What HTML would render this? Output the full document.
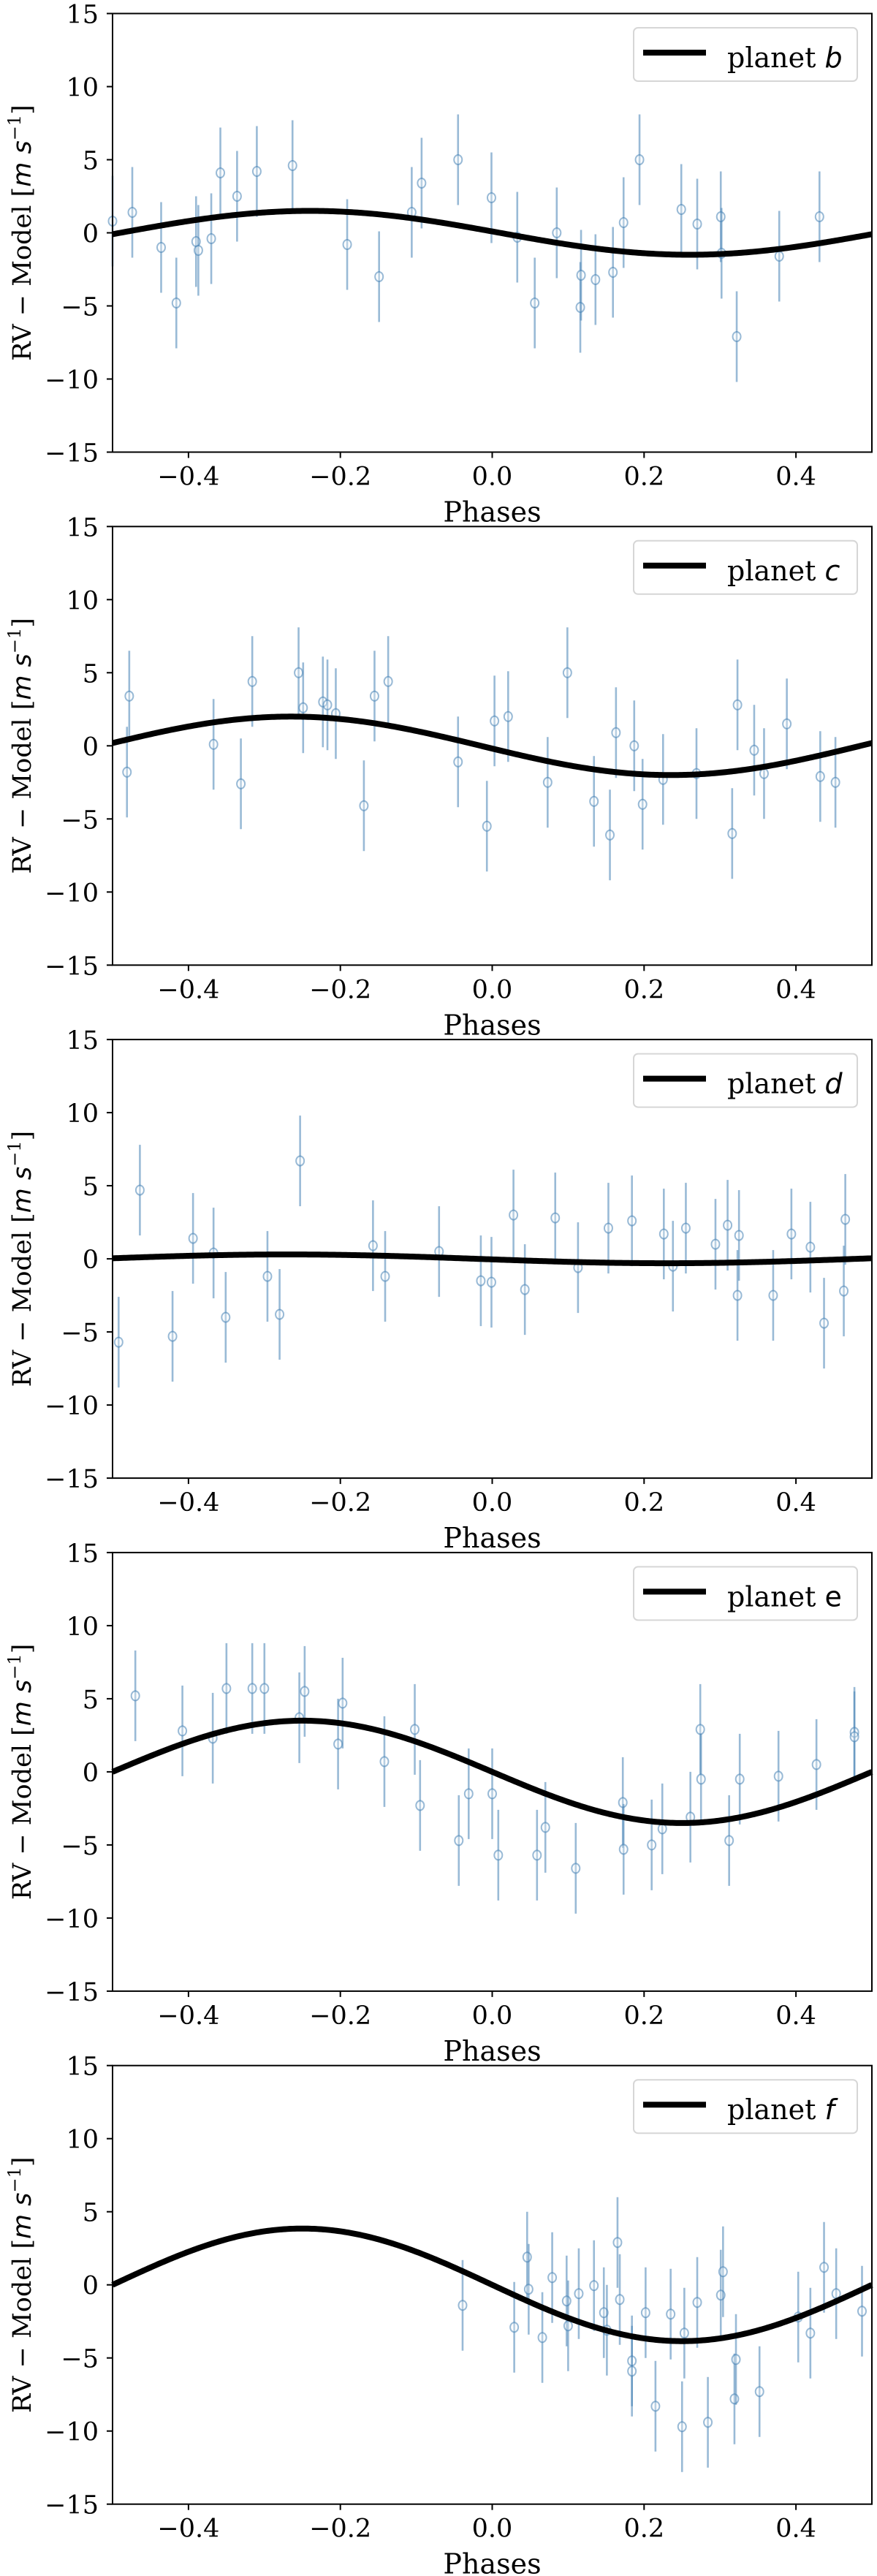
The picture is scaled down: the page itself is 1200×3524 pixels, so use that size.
<!DOCTYPE html>
<html><head><meta charset="utf-8"><style>
html,body{margin:0;padding:0;background:#fff;}
svg{display:block;}
text{font-family:"DejaVu Serif",serif;fill:#000;}
</style></head><body>
<svg id="fig" width="1200" height="3524" viewBox="0 0 1200 3524" xmlns="http://www.w3.org/2000/svg"></svg>
<script>
const panelLetters = ["b","c","d","e","f"];
const yTicks = [-15,-10,-5,0,5,10,15];
const xTicks = [-0.4,-0.2,0.0,0.2,0.4];
const xTickLabels = ["\u22120.4","\u22120.2","0.0","0.2","0.4"];
const amplitudes = [1.5, 2.0, 0.3, 3.5, 3.85];
const phaseOffsets = [0.01, -0.015, -0.02, 0.0, 0.0];
const errSize = 3.1;
const phasesB = [-0.5,-0.474,-0.436,-0.416,-0.39,-0.387,-0.37,-0.358,-0.336,-0.31,-0.263,-0.191,-0.149,-0.106,-0.093,-0.045,-0.001,0.033,0.056,0.085,0.116,0.117,0.136,0.159,0.173,0.194,0.249,0.27,0.301,0.302,0.322,0.378,0.431];
const valuesB = [0.8,1.4,-1.0,-4.8,-0.6,-1.2,-0.4,4.1,2.5,4.2,4.6,-0.8,-3.0,1.4,3.4,5.0,2.4,-0.3,-4.8,0.0,-5.1,-2.9,-3.2,-2.7,0.7,5.0,1.6,0.6,1.1,-1.4,-7.1,-1.6,1.1];
const phasesC = [-0.481,-0.478,-0.367,-0.331,-0.316,-0.255,-0.249,-0.223,-0.217,-0.206,-0.169,-0.155,-0.137,-0.045,-0.007,0.003,0.021,0.073,0.099,0.134,0.155,0.163,0.187,0.198,0.225,0.269,0.316,0.323,0.345,0.358,0.388,0.432,0.452];
const valuesC = [-1.8,3.4,0.1,-2.6,4.4,5.0,2.6,3.0,2.8,2.2,-4.1,3.4,4.4,-1.1,-5.5,1.7,2.0,-2.5,5.0,-3.8,-6.1,0.9,0.0,-4.0,-2.3,-1.9,-6.0,2.8,-0.3,-1.9,1.5,-2.1,-2.5];
const phasesD = [-0.492,-0.464,-0.421,-0.394,-0.367,-0.351,-0.296,-0.28,-0.253,-0.157,-0.141,-0.07,-0.015,-0.001,0.028,0.043,0.083,0.113,0.153,0.184,0.226,0.238,0.255,0.294,0.31,0.323,0.325,0.37,0.394,0.419,0.437,0.463,0.465];
const valuesD = [-5.7,4.7,-5.3,1.4,0.4,-4.0,-1.2,-3.8,6.7,0.9,-1.2,0.5,-1.5,-1.6,3.0,-2.1,2.8,-0.6,2.1,2.6,1.7,-0.5,2.1,1.0,2.3,-2.5,1.6,-2.5,1.7,0.8,-4.4,-2.2,2.7];
const phasesE = [-0.47,-0.408,-0.368,-0.35,-0.316,-0.3,-0.254,-0.247,-0.203,-0.197,-0.142,-0.102,-0.095,-0.044,-0.031,0.0,0.008,0.059,0.07,0.11,0.172,0.173,0.21,0.224,0.261,0.274,0.275,0.312,0.326,0.377,0.427,0.477,0.477];
const valuesE = [5.2,2.8,2.3,5.7,5.7,5.7,3.7,5.5,1.9,4.7,0.7,2.9,-2.3,-4.7,-1.5,-1.5,-5.7,-5.7,-3.8,-6.6,-2.1,-5.3,-5.0,-3.9,-3.1,2.9,-0.5,-4.7,-0.5,-0.3,0.5,2.7,2.4];
const phasesF = [-0.039,0.029,0.046,0.048,0.066,0.079,0.098,0.1,0.114,0.134,0.147,0.151,0.165,0.168,0.184,0.184,0.202,0.215,0.235,0.25,0.253,0.27,0.284,0.301,0.304,0.319,0.321,0.352,0.403,0.419,0.437,0.453,0.487];
const valuesF = [-1.4,-2.9,1.9,-0.3,-3.6,0.5,-1.1,-2.8,-0.6,-0.05,-1.9,-3.1,2.9,-1.0,-5.2,-5.9,-1.9,-8.3,-2.0,-9.7,-3.3,-1.2,-9.4,-0.7,0.9,-7.8,-5.1,-7.3,-2.2,-3.3,1.2,-0.6,-1.8];
const allPhases = [phasesB,phasesC,phasesD,phasesE,phasesF];
const allValues = [valuesB,valuesC,valuesD,valuesE,valuesF];

const NS="http://www.w3.org/2000/svg";
const svg=document.getElementById('fig');
const L=154,R=1193,H=600,TOP0=18.5,STEP=701.8;
function mk(tag,attrs,parent){const e=document.createElementNS(NS,tag);for(const k in attrs)e.setAttribute(k,attrs[k]);(parent||svg).appendChild(e);return e;}
function xs(p){return L+(p+0.5)*(R-L);}
for(let k=0;k<5;k++){
  const top=TOP0+STEP*k, bot=top+H;
  const ys=v=>top+(15-v)/30*H;
  const g=mk('g',{});
  
  
  // error bars and points
  const ph=allPhases[k], vals=allValues[k];
  for(let i=0;i<ph.length;i++){
    const x=xs(ph[i]);
    const eb=mk('line',{x1:x,x2:x,y1:ys(vals[i]+errSize),y2:ys(vals[i]-errSize),stroke:'#4682b4','stroke-opacity':0.55,'stroke-width':2.6},g);
    
    
    const c=mk('ellipse',{cx:x,cy:ys(vals[i]),rx:5.5,ry:6.5,fill:'rgba(255,255,255,0.3)',stroke:'#4682b4','stroke-opacity':0.55,'stroke-width':2},g);
    
    
  }
  // model curve
  let d='';
  for(let j=0;j<=400;j++){const p=-0.5+j/400;const v=-amplitudes[k]*Math.sin(2*Math.PI*(p-phaseOffsets[k]));d+=(j?'L':'M')+xs(p).toFixed(2)+','+ys(v).toFixed(2);}
  const cur=mk('path',{d:d,fill:'none',stroke:'#000','stroke-width':8},g);
  
  
  // frame
  const fr=mk('rect',{x:L,y:top,width:R-L,height:H,fill:'none',stroke:'#000','stroke-width':2},g);
  
  
  // y ticks
  yTicks.forEach(t=>{
    const y=ys(t);
    mk('line',{x1:L-8,x2:L,y1:y,y2:y,stroke:'#000','stroke-width':2},g);
    const tx=mk('text',{x:L-19,y:y+13,'text-anchor':'end','font-size':35},g);
    tx.textContent=(t<0?'\u2212':'')+Math.abs(t);
    
    
  });
  xTicks.forEach((t,i)=>{
    const x=xs(t);
    mk('line',{x1:x,x2:x,y1:bot,y2:bot+8,stroke:'#000','stroke-width':2},g);
    const tx=mk('text',{x:x,y:bot+45,'text-anchor':'middle','font-size':35},g);
    tx.textContent=xTickLabels[i];
    
    
  });
  const xl=mk('text',{x:(L+R)/2,y:bot+95,'text-anchor':'middle','font-size':38},g);
  xl.textContent='Phases';
  
  
  const yl=mk('text',{x:0,y:0,'text-anchor':'middle','font-size':35,transform:'translate(42,'+(top+H/2)+') rotate(-90)'},g);
  yl.innerHTML='RV \u2212 Model [<tspan font-style="italic" font-family="DejaVu Sans,sans-serif">m</tspan> <tspan font-style="italic" font-family="DejaVu Sans,sans-serif">s</tspan><tspan font-size="24" dy="-14">\u22121</tspan><tspan dy="14">]</tspan>';
  
  
  // legend
  const lg=mk('g',{},g);
  
  
  mk('rect',{x:867,y:top+19.5,width:306,height:73,rx:6,fill:'#fff',stroke:'#d6d6d6','stroke-width':2},lg);
  mk('line',{x1:880,x2:966,y1:top+53.5,y2:top+53.5,stroke:'#000','stroke-width':8},lg);
  const lt=mk('text',{x:995,y:top+73.5,'font-size':38},lg);
  const letter=panelLetters[k];
  lt.innerHTML='planet <tspan font-family="DejaVu Sans,sans-serif" '+(letter==='e'?'':'font-style="italic"')+'>'+letter+'</tspan>';
  
  
}
</script>
</body></html>
